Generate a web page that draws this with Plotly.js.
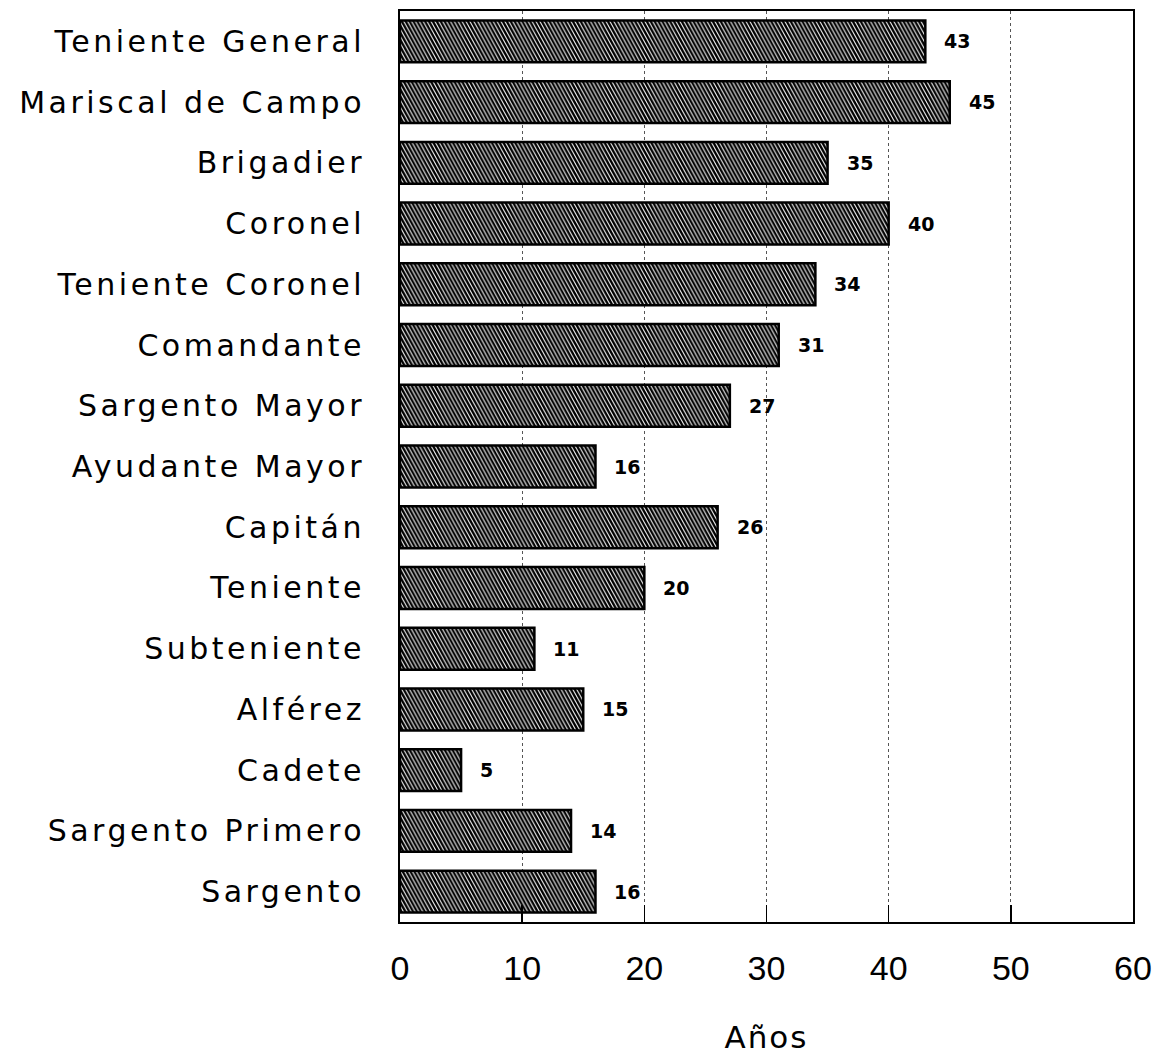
<!DOCTYPE html>
<html><head><meta charset="utf-8">
<script src="https://cdn.plot.ly/plotly-3.0.1.min.js"></script>
<style>body{margin:0;background:#fff}#c{width:1159px;height:1055px}
.ytick text{letter-spacing:3.5px}
.g-xtitle text{letter-spacing:2px}
</style>
</head><body><div id="c"></div>
<script>
const categories = ["Teniente General","Mariscal de Campo","Brigadier","Coronel","Teniente Coronel","Comandante","Sargento Mayor","Ayudante Mayor","Capitán","Teniente","Subteniente","Alférez","Cadete","Sargento Primero","Sargento"];
const values = [43,45,35,40,34,31,27,16,26,20,11,15,5,14,16];
const tickVals = [0,10,20,30,40,50,60];

const annotations = categories.map((c,i)=>({
  x: values[i], y: c, xref:'x', yref:'y', text: String(values[i]),
  showarrow:false, xanchor:'left', yanchor:'middle', xshift:17,
  font:{family:'DejaVu Sans', size:19, color:'#000', weight:'bold'}
}));

Plotly.newPlot('c', [{
  type:'bar', orientation:'h',
  y: categories, x: values,
  width: 0.69,
  marker:{color:'#fff', line:{color:'#000', width:2.5},
    pattern:{shape:'\\', fgcolor:'#000', bgcolor:'#fff', size:5, solidity:0.7}},
  hoverinfo:'none'
}], {
  width:1159, height:1055,
  margin:{l:400, r:26, t:11, b:133},
  paper_bgcolor:'#fff', plot_bgcolor:'#fff',
  showlegend:false,
  annotations: annotations,
  xaxis:{range:[0,60], tickvals:tickVals, ticks:'inside', ticklen:17, tickcolor:'#000', tickwidth:1.5,
    showgrid:true, gridcolor:'#555', griddash:'dot', gridwidth:1,
    zeroline:false, showline:true, linecolor:'#000', linewidth:2, mirror:true,
    ticklabelstandoff:15,
    tickfont:{family:'Liberation Sans', size:34, color:'#000'},
    title:{text:'Años', font:{family:'DejaVu Sans', size:31, color:'#000'}, standoff:51}},
  yaxis:{autorange:'reversed', ticks:'', showline:true, linecolor:'#000', linewidth:2, mirror:true,
    showgrid:false, ticklabelstandoff:27,
    tickfont:{family:'DejaVu Sans', size:30, color:'#000'}}
}, {staticPlot:true}).then(gd=>{
  gd.querySelectorAll('pattern').forEach(p=>p.setAttribute('patternTransform','scale(0.55,1)'));
});
</script>
</body></html>
